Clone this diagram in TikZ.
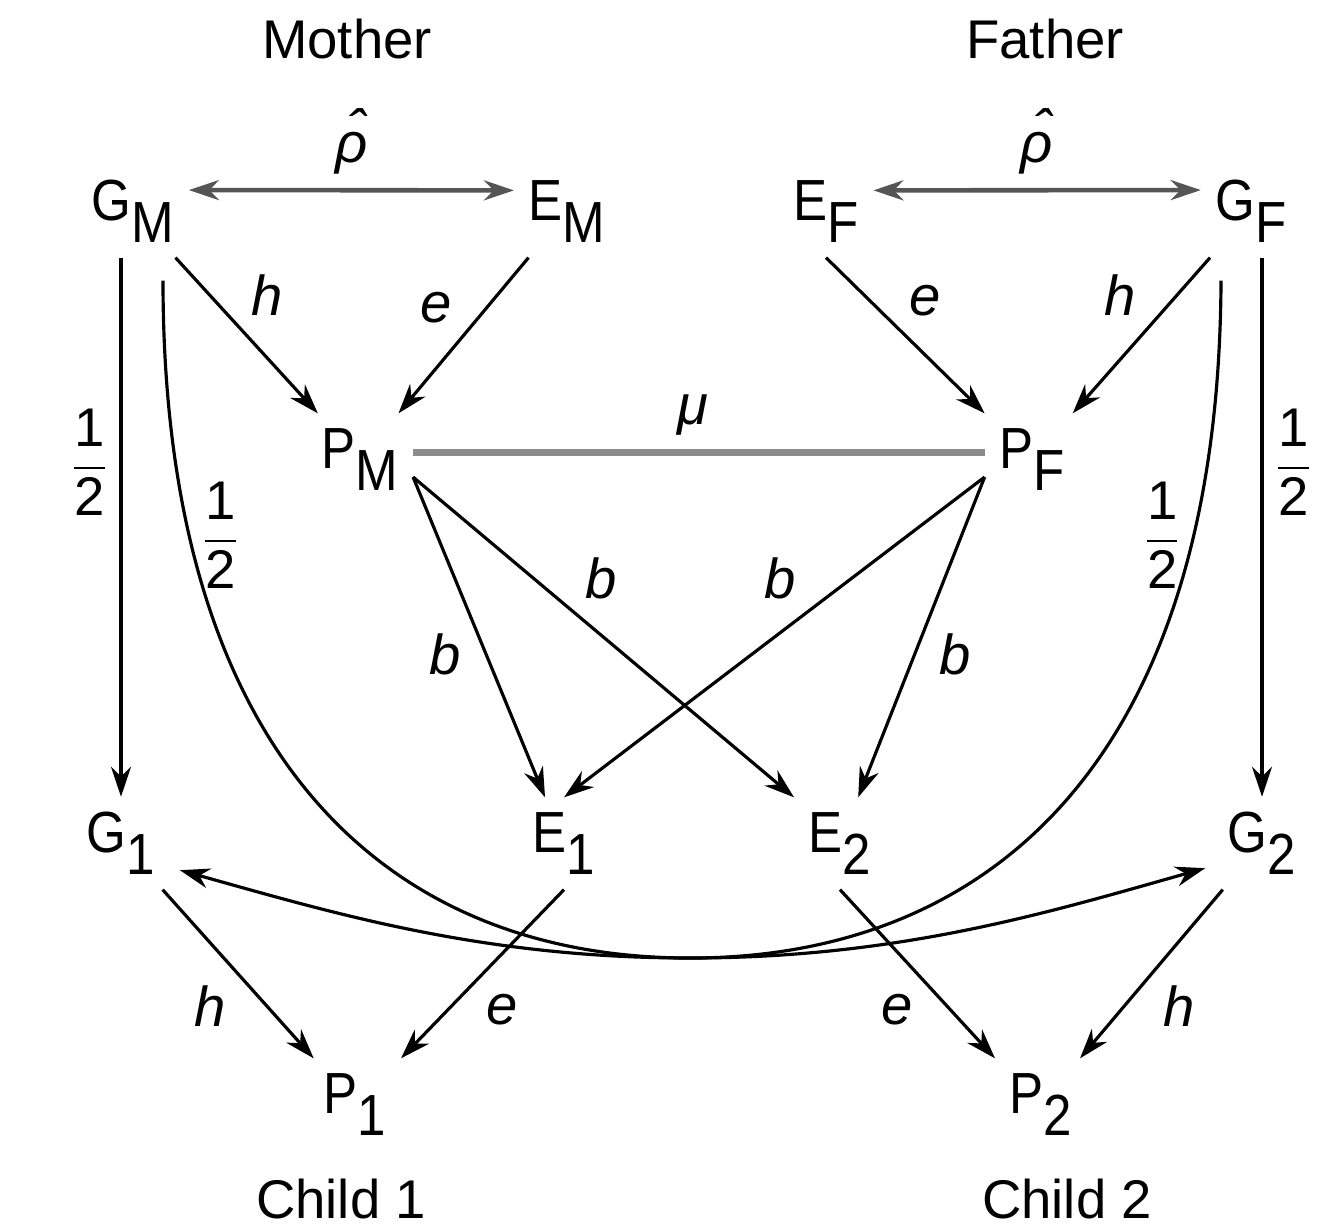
\documentclass[tikz,border=0pt]{standalone}
\usepackage{amsmath}
\usepackage{fontspec}
\setmainfont{Liberation Sans}
\newfontfamily\varfont[FakeStretch=0.88]{Liberation Sans}
\usepackage{tikz}
\usetikzlibrary{arrows.meta}
\definecolor{inkgray}{HTML}{555555}
\definecolor{linegray}{HTML}{8C8C8C}
\newcommand\sub[1]{\raisebox{-6.5pt}{#1}}
\newcommand\half{$\dfrac{\text{1}}{\text{2}}$}
\newcommand\rhohat{\textit{ρ}\llap{\raisebox{.22em}{ˆ}\kern.02em}}

\begin{document}
\begin{tikzpicture}[x=0.01cm,y=-0.01cm,
		var/.style={anchor=base,inner sep=4pt,font=\fontsize{16.5}{19}\varfont},
		word/.style={anchor=base,inner sep=2pt,font=\fontsize{15.5}{18}\selectfont},
		lab/.style={font=\fontsize{16}{19}\selectfont\itshape,inner sep=3pt},
		frac/.style={font=\fontsize{15.5}{18}\selectfont,inner sep=3pt},
		link/.style={-{Stealth[length=3mm,width=2mm]},line width=0.9pt},
		both/.style={{Stealth[length=3mm,width=2mm]}-{Stealth[length=3mm,width=2mm]},line width=1.3pt,draw=inkgray},
		corr/.style={line width=1.8pt,draw=linegray}
		]
		\useasboundingbox (0,0) rectangle (1322,1230);
		% parents
		\node[word] (mother) at (347,58) {Mother};
		\node[word] (father) at (1045,58) {Father};
		\node[var] (gm) at (133,220) {G\sub{M}};
		\node[var] (em) at (567,220) {E\sub{M}};
		\node[var] (ef) at (826,220) {E\sub{F}};
		\node[var] (gf) at (1251,220) {G\sub{F}};
		\node[var] (pm) at (360,468) {P\sub{M}};
		\node[var] (pf) at (1032,468) {P\sub{F}};
		% children
		\node[var] (g1) at (121,852) {G\sub{1}};
		\node[var] (e1) at (564,852) {E\sub{1}};
		\node[var] (e2) at (840,852) {E\sub{2}};
		\node[var] (g2) at (1262,852) {G\sub{2}};
		\node[var] (p1) at (355,1113) {P\sub{1}};
		\node[var] (p2) at (1041,1113) {P\sub{2}};
		\node[word] (child1) at (341,1218) {Child 1};
		\node[word] (child2) at (1067,1218) {Child 2};

		\draw[both] ([yshift=6pt]gm.east) -- node[lab,above=1pt]{\rhohat} ([yshift=6pt]em.west);
		\draw[both] ([yshift=6pt]ef.east) -- node[lab,above=1pt]{\rhohat} ([yshift=6pt]gf.west);
		\draw[link] (gm) -- node[lab,pos=.45,auto]{h} (pm);
		\draw[link] (em) -- node[lab,pos=.5,auto,swap]{e} (pm);
		\draw[link] (ef.south) -- node[lab,pos=.45,auto]{e} (pf.north west);
		\draw[link] (gf) -- node[lab,pos=.45,auto,swap]{h} (pf);
		\draw[corr] ([yshift=2pt]pm.east) -- node[lab,above=1pt,pos=.49]{μ} ([yshift=2pt]pf.west);

		\draw[link] ([yshift=-5pt]pm.east) -- node[lab,pos=.45,auto,swap]{b} (e1);
		\draw[link] ([yshift=-5pt]pm.east) -- node[lab,pos=.42,auto]{b} (e2.north west);
		\draw[link] ([yshift=-5pt]pf.west) -- node[lab,pos=.42,auto,swap]{b} (e1.north);
		\draw[link] ([yshift=-5pt]pf.west) -- node[lab,pos=.45,auto]{b} (e2);

		% transmission
		\draw[link] (g1.north |- gm.south) -- node[frac,pos=.38,left]{\half} (g1.north);
		\draw[link] (g2.north |- gf.south) -- node[frac,pos=.38,right]{\half} (g2.north);
		\draw[link] ([shift={(30,23)}]gm.south) .. controls (163,760) and (390,958) .. (690,958)
			node[frac,pos=.2,right]{\half}
			.. controls (900,958) and (1050,912) .. ([shift={(-8,25)}]g2.west);
		\draw[link] ([shift={(-30,23)}]gf.south) .. controls (1219,760) and (990,958) .. (690,958)
			node[frac,pos=.2,left]{\half}
			.. controls (480,958) and (330,912) .. ([shift={(10,27)}]g1.east);

		\draw[link] (g1) -- node[lab,pos=.5,auto,swap]{h} (p1);
		\draw[link] (e1.south) -- node[lab,pos=.55,auto]{e} (p1.north east);
		\draw[link] (e2.south) -- node[lab,pos=.55,auto,swap]{e} (p2.north west);
		\draw[link] (g2) -- node[lab,pos=.5,auto]{h} (p2);
	\end{tikzpicture}
\end{document}
